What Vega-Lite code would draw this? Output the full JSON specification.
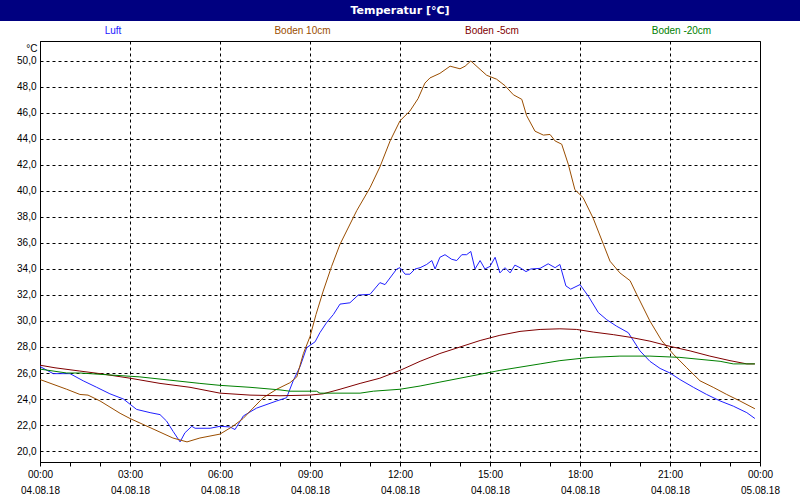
{
"$schema": "https://vega.github.io/schema/vega-lite/v6.json",
"padding": 0,
"background": "white",
"spacing": 0,
"config": {"view": {"stroke": null}, "font": "Liberation Sans"},
"datasets": {
"temps": [
{"s":"Luft","h":0,"T":26.5},{"s":"Luft","h":0.44,"T":25.95},{"s":"Luft","h":1,"T":25.95},{"s":"Luft","h":1.44,"T":25.4},{"s":"Luft","h":1.89,"T":24.9},{"s":"Luft","h":2.33,"T":24.4},{"s":"Luft","h":2.78,"T":24.0},{"s":"Luft","h":3.22,"T":23.2},{"s":"Luft","h":3.67,"T":22.95},{"s":"Luft","h":4,"T":22.8},{"s":"Luft","h":4.22,"T":22.3},{"s":"Luft","h":4.44,"T":21.5},{"s":"Luft","h":4.67,"T":20.7},{"s":"Luft","h":4.83,"T":21.4},{"s":"Luft","h":5.06,"T":21.9},{"s":"Luft","h":5.17,"T":21.75},{"s":"Luft","h":5.67,"T":21.75},{"s":"Luft","h":6,"T":21.9},{"s":"Luft","h":6.33,"T":21.85},{"s":"Luft","h":6.5,"T":21.65},{"s":"Luft","h":6.78,"T":22.7},{"s":"Luft","h":7.22,"T":23.3},{"s":"Luft","h":7.89,"T":23.85},{"s":"Luft","h":8.22,"T":24.1},{"s":"Luft","h":8.44,"T":25.4},{"s":"Luft","h":8.67,"T":26.5},{"s":"Luft","h":8.89,"T":27.95},{"s":"Luft","h":9.17,"T":28.4},{"s":"Luft","h":9.33,"T":29.1},{"s":"Luft","h":9.56,"T":29.9},{"s":"Luft","h":9.78,"T":30.5},{"s":"Luft","h":10,"T":31.3},{"s":"Luft","h":10.33,"T":31.4},{"s":"Luft","h":10.61,"T":32.0},{"s":"Luft","h":11,"T":32.05},{"s":"Luft","h":11.33,"T":32.95},{"s":"Luft","h":11.5,"T":32.8},{"s":"Luft","h":11.89,"T":34.0},{"s":"Luft","h":12,"T":34.1},{"s":"Luft","h":12.17,"T":33.6},{"s":"Luft","h":12.33,"T":33.6},{"s":"Luft","h":12.5,"T":34.0},{"s":"Luft","h":12.67,"T":34.1},{"s":"Luft","h":12.89,"T":34.35},{"s":"Luft","h":13.06,"T":34.65},{"s":"Luft","h":13.17,"T":34.0},{"s":"Luft","h":13.33,"T":34.9},{"s":"Luft","h":13.5,"T":35.1},{"s":"Luft","h":13.72,"T":34.75},{"s":"Luft","h":13.89,"T":34.65},{"s":"Luft","h":14.06,"T":35.1},{"s":"Luft","h":14.22,"T":35.1},{"s":"Luft","h":14.36,"T":35.35},{"s":"Luft","h":14.5,"T":34.0},{"s":"Luft","h":14.67,"T":34.65},{"s":"Luft","h":14.83,"T":34.0},{"s":"Luft","h":15,"T":34.2},{"s":"Luft","h":15.17,"T":34.9},{"s":"Luft","h":15.33,"T":33.7},{"s":"Luft","h":15.5,"T":34.1},{"s":"Luft","h":15.67,"T":33.7},{"s":"Luft","h":15.83,"T":34.3},{"s":"Luft","h":16,"T":34.1},{"s":"Luft","h":16.2,"T":33.8},{"s":"Luft","h":16.36,"T":34.0},{"s":"Luft","h":16.67,"T":34.05},{"s":"Luft","h":16.94,"T":34.4},{"s":"Luft","h":17.17,"T":34.1},{"s":"Luft","h":17.33,"T":34.35},{"s":"Luft","h":17.53,"T":32.7},{"s":"Luft","h":17.69,"T":32.45},{"s":"Luft","h":18,"T":32.8},{"s":"Luft","h":18.28,"T":31.9},{"s":"Luft","h":18.61,"T":30.65},{"s":"Luft","h":18.89,"T":30.1},{"s":"Luft","h":19.22,"T":29.6},{"s":"Luft","h":19.61,"T":29.1},{"s":"Luft","h":20,"T":27.7},{"s":"Luft","h":20.33,"T":26.9},{"s":"Luft","h":20.67,"T":26.35},{"s":"Luft","h":21,"T":26.0},{"s":"Luft","h":21.33,"T":25.5},{"s":"Luft","h":21.78,"T":24.9},{"s":"Luft","h":22.22,"T":24.35},{"s":"Luft","h":22.67,"T":23.85},{"s":"Luft","h":23.11,"T":23.45},{"s":"Luft","h":23.56,"T":22.95},{"s":"Luft","h":23.83,"T":22.5},
{"s":"Boden 10cm","h":0,"T":25.5},{"s":"Boden 10cm","h":0.89,"T":24.75},{"s":"Boden 10cm","h":1.33,"T":24.35},{"s":"Boden 10cm","h":1.6,"T":24.3},{"s":"Boden 10cm","h":2,"T":23.85},{"s":"Boden 10cm","h":2.67,"T":22.9},{"s":"Boden 10cm","h":3,"T":22.5},{"s":"Boden 10cm","h":3.67,"T":21.8},{"s":"Boden 10cm","h":4.43,"T":21.0},{"s":"Boden 10cm","h":4.9,"T":20.7},{"s":"Boden 10cm","h":5.33,"T":21.0},{"s":"Boden 10cm","h":6,"T":21.3},{"s":"Boden 10cm","h":6.43,"T":21.9},{"s":"Boden 10cm","h":6.77,"T":22.5},{"s":"Boden 10cm","h":7.1,"T":23.3},{"s":"Boden 10cm","h":7.44,"T":24.1},{"s":"Boden 10cm","h":7.89,"T":24.75},{"s":"Boden 10cm","h":8.33,"T":25.25},{"s":"Boden 10cm","h":8.56,"T":25.7},{"s":"Boden 10cm","h":8.78,"T":27.5},{"s":"Boden 10cm","h":9,"T":28.8},{"s":"Boden 10cm","h":9.2,"T":30.5},{"s":"Boden 10cm","h":9.44,"T":32.3},{"s":"Boden 10cm","h":9.72,"T":34.2},{"s":"Boden 10cm","h":10,"T":35.9},{"s":"Boden 10cm","h":10.56,"T":38.5},{"s":"Boden 10cm","h":11,"T":40.25},{"s":"Boden 10cm","h":11.33,"T":41.85},{"s":"Boden 10cm","h":11.67,"T":43.85},{"s":"Boden 10cm","h":12,"T":45.4},{"s":"Boden 10cm","h":12.33,"T":46.15},{"s":"Boden 10cm","h":12.6,"T":47.1},{"s":"Boden 10cm","h":12.83,"T":48.3},{"s":"Boden 10cm","h":13,"T":48.7},{"s":"Boden 10cm","h":13.33,"T":49.05},{"s":"Boden 10cm","h":13.67,"T":49.6},{"s":"Boden 10cm","h":14,"T":49.4},{"s":"Boden 10cm","h":14.17,"T":49.6},{"s":"Boden 10cm","h":14.36,"T":50.0},{"s":"Boden 10cm","h":14.6,"T":49.5},{"s":"Boden 10cm","h":14.89,"T":48.9},{"s":"Boden 10cm","h":15,"T":48.8},{"s":"Boden 10cm","h":15.22,"T":48.6},{"s":"Boden 10cm","h":15.5,"T":48.1},{"s":"Boden 10cm","h":15.78,"T":47.4},{"s":"Boden 10cm","h":16.06,"T":47.05},{"s":"Boden 10cm","h":16.22,"T":45.8},{"s":"Boden 10cm","h":16.5,"T":44.6},{"s":"Boden 10cm","h":16.78,"T":44.3},{"s":"Boden 10cm","h":17,"T":44.35},{"s":"Boden 10cm","h":17.17,"T":43.85},{"s":"Boden 10cm","h":17.39,"T":43.6},{"s":"Boden 10cm","h":17.61,"T":42.05},{"s":"Boden 10cm","h":17.83,"T":40.1},{"s":"Boden 10cm","h":18.1,"T":39.5},{"s":"Boden 10cm","h":18.44,"T":37.9},{"s":"Boden 10cm","h":18.78,"T":35.9},{"s":"Boden 10cm","h":19,"T":34.6},{"s":"Boden 10cm","h":19.33,"T":33.7},{"s":"Boden 10cm","h":19.67,"T":33.1},{"s":"Boden 10cm","h":19.89,"T":32.05},{"s":"Boden 10cm","h":20.33,"T":30.0},{"s":"Boden 10cm","h":20.72,"T":28.5},{"s":"Boden 10cm","h":21.11,"T":27.45},{"s":"Boden 10cm","h":21.56,"T":26.4},{"s":"Boden 10cm","h":22,"T":25.4},{"s":"Boden 10cm","h":22.44,"T":24.9},{"s":"Boden 10cm","h":22.89,"T":24.35},{"s":"Boden 10cm","h":23.33,"T":23.85},{"s":"Boden 10cm","h":23.83,"T":23.25},
{"s":"Boden -5cm","h":0,"T":26.6},{"s":"Boden -5cm","h":0.5,"T":26.4},{"s":"Boden -5cm","h":1.33,"T":26.15},{"s":"Boden -5cm","h":2,"T":25.95},{"s":"Boden -5cm","h":3,"T":25.6},{"s":"Boden -5cm","h":4,"T":25.2},{"s":"Boden -5cm","h":5,"T":24.9},{"s":"Boden -5cm","h":6,"T":24.45},{"s":"Boden -5cm","h":7,"T":24.3},{"s":"Boden -5cm","h":8,"T":24.25},{"s":"Boden -5cm","h":9,"T":24.3},{"s":"Boden -5cm","h":9.44,"T":24.4},{"s":"Boden -5cm","h":10,"T":24.75},{"s":"Boden -5cm","h":10.67,"T":25.2},{"s":"Boden -5cm","h":11.33,"T":25.6},{"s":"Boden -5cm","h":12,"T":26.2},{"s":"Boden -5cm","h":12.67,"T":26.9},{"s":"Boden -5cm","h":13.33,"T":27.5},{"s":"Boden -5cm","h":14,"T":28.0},{"s":"Boden -5cm","h":14.67,"T":28.5},{"s":"Boden -5cm","h":15.33,"T":28.9},{"s":"Boden -5cm","h":16,"T":29.2},{"s":"Boden -5cm","h":16.67,"T":29.35},{"s":"Boden -5cm","h":17.33,"T":29.4},{"s":"Boden -5cm","h":17.89,"T":29.35},{"s":"Boden -5cm","h":18.44,"T":29.15},{"s":"Boden -5cm","h":19.11,"T":28.95},{"s":"Boden -5cm","h":19.67,"T":28.75},{"s":"Boden -5cm","h":20.33,"T":28.45},{"s":"Boden -5cm","h":21,"T":28.05},{"s":"Boden -5cm","h":21.67,"T":27.7},{"s":"Boden -5cm","h":22.33,"T":27.3},{"s":"Boden -5cm","h":23,"T":26.95},{"s":"Boden -5cm","h":23.56,"T":26.7},{"s":"Boden -5cm","h":23.83,"T":26.7},
{"s":"Boden -20cm","h":0,"T":26.3},{"s":"Boden -20cm","h":0.89,"T":26.0},{"s":"Boden -20cm","h":1.33,"T":26.0},{"s":"Boden -20cm","h":2.33,"T":25.85},{"s":"Boden -20cm","h":3.33,"T":25.7},{"s":"Boden -20cm","h":4.33,"T":25.45},{"s":"Boden -20cm","h":5.33,"T":25.2},{"s":"Boden -20cm","h":6,"T":25.05},{"s":"Boden -20cm","h":7,"T":24.9},{"s":"Boden -20cm","h":8,"T":24.7},{"s":"Boden -20cm","h":8.33,"T":24.6},{"s":"Boden -20cm","h":9.22,"T":24.6},{"s":"Boden -20cm","h":9.33,"T":24.45},{"s":"Boden -20cm","h":10.67,"T":24.45},{"s":"Boden -20cm","h":11.11,"T":24.6},{"s":"Boden -20cm","h":12,"T":24.75},{"s":"Boden -20cm","h":12.67,"T":25.0},{"s":"Boden -20cm","h":13.33,"T":25.3},{"s":"Boden -20cm","h":14,"T":25.6},{"s":"Boden -20cm","h":14.67,"T":25.9},{"s":"Boden -20cm","h":15.33,"T":26.2},{"s":"Boden -20cm","h":16,"T":26.45},{"s":"Boden -20cm","h":16.67,"T":26.7},{"s":"Boden -20cm","h":17.33,"T":26.95},{"s":"Boden -20cm","h":18.33,"T":27.2},{"s":"Boden -20cm","h":19.33,"T":27.3},{"s":"Boden -20cm","h":20.33,"T":27.3},{"s":"Boden -20cm","h":21.33,"T":27.2},{"s":"Boden -20cm","h":22,"T":27.05},{"s":"Boden -20cm","h":22.67,"T":26.9},{"s":"Boden -20cm","h":23.11,"T":26.7},{"s":"Boden -20cm","h":23.83,"T":26.7}
]
},
"vconcat": [
{
"width": 800, "height": 21,
"view": {"fill": "#000080", "stroke": null},
"data": {"values": [{"t": "Temperatur [°C]"}]},
"mark": {"type": "text", "color": "white", "fontWeight": "bold", "fontSize": 11, "font": "DejaVu Sans"},
"encoding": {"text": {"field": "t"}}
},
{
"width": 800, "height": 19,
"data": {"values": [{"s": "Luft"}, {"s": "Boden 10cm"}, {"s": "Boden -5cm"}, {"s": "Boden -20cm"}]},
"mark": {"type": "text", "fontSize": 10},
"encoding": {
"x": {"field": "s", "type": "nominal", "sort": ["Luft", "Boden 10cm", "Boden -5cm", "Boden -20cm"], "scale": {"type": "point", "padding": 0.611, "align": 0.488}, "axis": null},
"color": {"field": "s", "type": "nominal", "scale": {"domain": ["Luft", "Boden 10cm", "Boden -5cm", "Boden -20cm"], "range": ["#2020ff", "#9a4d00", "#800000", "#008000"]}, "legend": null},
"text": {"field": "s"}
}
},
{
"spacing": 0,
"hconcat": [
{
"width": 16, "height": 421,
"data": {"values": [{}]},
"mark": {"type": "point", "opacity": 0},
"encoding": {}
},
{
"width": 720, "height": 421,
"view": {"stroke": "black", "strokeWidth": 1},
"data": {"name": "temps"},
"mark": {"type": "line", "strokeWidth": 1, "interpolate": "linear"},
"encoding": {
"x": {"field": "h", "type": "quantitative",
"scale": {"domain": [0, 24], "nice": false, "zero": false},
"axis": {"values": [0,1,2,3,4,5,6,7,8,9,10,11,12,13,14,15,16,17,18,19,20,21,22,23,24],
"labelExpr": "datum.value % 3 === 0 ? [(datum.value % 24 < 10 ? '0' : '') + (datum.value % 24) + ':00', datum.value < 24 ? '04.08.18' : '05.08.18'] : ''",
"title": null, "grid": true, "gridColor": "black", "gridDash": [3, 3], "gridWidth": 1,
"gridOpacity": {"condition": {"test": "datum.value % 3 === 0", "value": 1}, "value": 0},
"tickSize": 4, "tickColor": "black", "domainColor": "black", "labelPadding": 3, "labelBaseline": "top",
"labelLineHeight": 16, "labelFlush": false, "labelOverlap": false, "labelFontSize": 10, "labelColor": "black"}},
"y": {"field": "T", "type": "quantitative",
"scale": {"domain": [19.154, 51.538], "nice": false, "zero": false},
"axis": {"values": [20,22,24,26,28,30,32,34,36,38,40,42,44,46,48,50],
"labelExpr": "replace(format(datum.value, '.1f'), '.', ',')",
"ticks": false, "labelPadding": 4, "grid": true, "gridColor": "black", "gridDash": [3, 3], "gridWidth": 1,
"domainColor": "black", "labelFlush": false, "labelOverlap": false, "labelFontSize": 10, "labelColor": "black",
"title": "°C", "titleAngle": 0, "titleX": -3, "titleY": 2, "titleAlign": "right", "titleBaseline": "top",
"titleFontWeight": "normal", "titleFontSize": 10, "titleColor": "black"}},
"color": {"field": "s", "type": "nominal", "scale": {"domain": ["Luft", "Boden 10cm", "Boden -5cm", "Boden -20cm"], "range": ["#0000ff", "#9a4d00", "#800000", "#008000"]}, "legend": null}
}
}
]
}
]
}
